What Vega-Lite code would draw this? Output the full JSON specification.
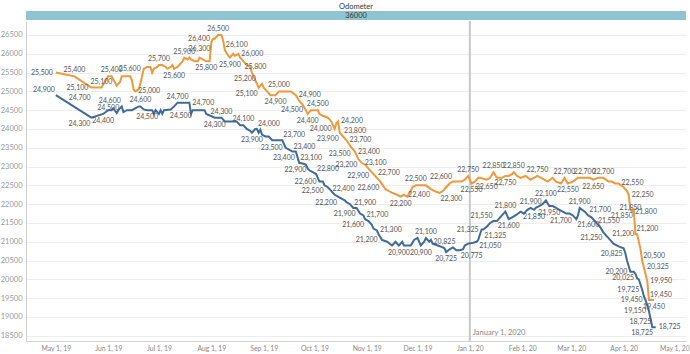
{
 "$schema": "https://vega.github.io/schema/vega-lite/v6.json",
 "padding": {"left": 0, "right": 5, "top": 2, "bottom": 0},
 "background": "white",
 "spacing": 0,
 "config": {"view": {"stroke": null}, "font": "Lato"},
 "datasets": {
  "prices": [
   {"series":"Series 1","d":"2019-05-01","v":25500},{"series":"Series 1","d":"2019-05-12","v":25400},{"series":"Series 1","d":"2019-05-22","v":25100},{"series":"Series 1","d":"2019-05-28","v":25100},{"series":"Series 1","d":"2019-06-01","v":25400},{"series":"Series 1","d":"2019-06-03","v":25400},{"series":"Series 1","d":"2019-06-06","v":25150},{"series":"Series 1","d":"2019-06-08","v":25250},{"series":"Series 1","d":"2019-06-09","v":25400},{"series":"Series 1","d":"2019-06-14","v":25400},{"series":"Series 1","d":"2019-06-15","v":25300},{"series":"Series 1","d":"2019-06-16","v":25050},{"series":"Series 1","d":"2019-06-17","v":25000},{"series":"Series 1","d":"2019-06-19","v":25050},{"series":"Series 1","d":"2019-06-20","v":25200},{"series":"Series 1","d":"2019-06-22","v":25600},{"series":"Series 1","d":"2019-06-24","v":25650},{"series":"Series 1","d":"2019-06-26","v":25650},{"series":"Series 1","d":"2019-06-27","v":25500},{"series":"Series 1","d":"2019-06-28","v":25600},{"series":"Series 1","d":"2019-06-30","v":25650},{"series":"Series 1","d":"2019-07-01","v":25700},{"series":"Series 1","d":"2019-07-03","v":25700},{"series":"Series 1","d":"2019-07-05","v":25650},{"series":"Series 1","d":"2019-07-06","v":25600},{"series":"Series 1","d":"2019-07-08","v":25650},{"series":"Series 1","d":"2019-07-09","v":25700},{"series":"Series 1","d":"2019-07-10","v":25600},{"series":"Series 1","d":"2019-07-12","v":25650},{"series":"Series 1","d":"2019-07-14","v":25750},{"series":"Series 1","d":"2019-07-15","v":25800},{"series":"Series 1","d":"2019-07-16","v":25900},{"series":"Series 1","d":"2019-07-18","v":25850},{"series":"Series 1","d":"2019-07-19","v":25900},{"series":"Series 1","d":"2019-07-20","v":25850},{"series":"Series 1","d":"2019-07-22","v":25800},{"series":"Series 1","d":"2019-07-24","v":25800},{"series":"Series 1","d":"2019-07-25","v":25900},{"series":"Series 1","d":"2019-07-27","v":25850},{"series":"Series 1","d":"2019-07-29","v":25800},{"series":"Series 1","d":"2019-07-31","v":25800},{"series":"Series 1","d":"2019-08-01","v":26300},{"series":"Series 1","d":"2019-08-02","v":26400},{"series":"Series 1","d":"2019-08-03","v":26400},{"series":"Series 1","d":"2019-08-05","v":26500},{"series":"Series 1","d":"2019-08-07","v":26500},{"series":"Series 1","d":"2019-08-08","v":26350},{"series":"Series 1","d":"2019-08-09","v":26100},{"series":"Series 1","d":"2019-08-11","v":25950},{"series":"Series 1","d":"2019-08-12","v":25900},{"series":"Series 1","d":"2019-08-14","v":26000},{"series":"Series 1","d":"2019-08-15","v":25950},{"series":"Series 1","d":"2019-08-17","v":26000},{"series":"Series 1","d":"2019-08-18","v":25900},{"series":"Series 1","d":"2019-08-20","v":25800},{"series":"Series 1","d":"2019-08-22","v":25700},{"series":"Series 1","d":"2019-08-24","v":25650},{"series":"Series 1","d":"2019-08-25","v":25500},{"series":"Series 1","d":"2019-08-27","v":25300},{"series":"Series 1","d":"2019-08-28","v":25200},{"series":"Series 1","d":"2019-08-29","v":25100},{"series":"Series 1","d":"2019-08-31","v":25200},{"series":"Series 1","d":"2019-09-01","v":25100},{"series":"Series 1","d":"2019-09-03","v":25000},{"series":"Series 1","d":"2019-09-05","v":24900},{"series":"Series 1","d":"2019-09-08","v":24900},{"series":"Series 1","d":"2019-09-10","v":25000},{"series":"Series 1","d":"2019-09-17","v":25000},{"series":"Series 1","d":"2019-09-20","v":24900},{"series":"Series 1","d":"2019-09-22","v":24750},{"series":"Series 1","d":"2019-09-24","v":24650},{"series":"Series 1","d":"2019-09-26","v":24500},{"series":"Series 1","d":"2019-09-27","v":24400},{"series":"Series 1","d":"2019-09-29","v":24500},{"series":"Series 1","d":"2019-10-03","v":24500},{"series":"Series 1","d":"2019-10-04","v":24400},{"series":"Series 1","d":"2019-10-06","v":24350},{"series":"Series 1","d":"2019-10-09","v":24300},{"series":"Series 1","d":"2019-10-11","v":24200},{"series":"Series 1","d":"2019-10-13","v":24000},{"series":"Series 1","d":"2019-10-14","v":24150},{"series":"Series 1","d":"2019-10-15","v":24200},{"series":"Series 1","d":"2019-10-16","v":23900},{"series":"Series 1","d":"2019-10-18","v":23800},{"series":"Series 1","d":"2019-10-20","v":23700},{"series":"Series 1","d":"2019-10-23","v":23500},{"series":"Series 1","d":"2019-10-25","v":23400},{"series":"Series 1","d":"2019-10-27","v":23200},{"series":"Series 1","d":"2019-10-29","v":23100},{"series":"Series 1","d":"2019-10-31","v":23050},{"series":"Series 1","d":"2019-11-03","v":22900},{"series":"Series 1","d":"2019-11-05","v":22800},{"series":"Series 1","d":"2019-11-07","v":22700},{"series":"Series 1","d":"2019-11-09","v":22600},{"series":"Series 1","d":"2019-11-12","v":22400},{"series":"Series 1","d":"2019-11-14","v":22350},{"series":"Series 1","d":"2019-11-16","v":22300},{"series":"Series 1","d":"2019-11-19","v":22250},{"series":"Series 1","d":"2019-11-21","v":22200},{"series":"Series 1","d":"2019-11-23","v":22250},{"series":"Series 1","d":"2019-11-25","v":22200},{"series":"Series 1","d":"2019-11-27","v":22350},{"series":"Series 1","d":"2019-11-28","v":22450},{"series":"Series 1","d":"2019-11-30","v":22500},{"series":"Series 1","d":"2019-12-06","v":22500},{"series":"Series 1","d":"2019-12-09","v":22400},{"series":"Series 1","d":"2019-12-11","v":22350},{"series":"Series 1","d":"2019-12-14","v":22300},{"series":"Series 1","d":"2019-12-16","v":22350},{"series":"Series 1","d":"2019-12-18","v":22450},{"series":"Series 1","d":"2019-12-20","v":22550},{"series":"Series 1","d":"2019-12-22","v":22600},{"series":"Series 1","d":"2019-12-25","v":22600},{"series":"Series 1","d":"2019-12-27","v":22600},{"series":"Series 1","d":"2019-12-29","v":22650},{"series":"Series 1","d":"2019-12-31","v":22750},{"series":"Series 1","d":"2020-01-02","v":22550},{"series":"Series 1","d":"2020-01-04","v":22600},{"series":"Series 1","d":"2020-01-06","v":22700},{"series":"Series 1","d":"2020-01-07","v":22700},{"series":"Series 1","d":"2020-01-11","v":22650},{"series":"Series 1","d":"2020-01-13","v":22700},{"series":"Series 1","d":"2020-01-15","v":22850},{"series":"Series 1","d":"2020-01-17","v":22700},{"series":"Series 1","d":"2020-01-20","v":22700},{"series":"Series 1","d":"2020-01-22","v":22750},{"series":"Series 1","d":"2020-01-24","v":22750},{"series":"Series 1","d":"2020-01-26","v":22800},{"series":"Series 1","d":"2020-01-27","v":22850},{"series":"Series 1","d":"2020-01-29","v":22750},{"series":"Series 1","d":"2020-01-31","v":22700},{"series":"Series 1","d":"2020-02-03","v":22750},{"series":"Series 1","d":"2020-02-06","v":22650},{"series":"Series 1","d":"2020-02-10","v":22750},{"series":"Series 1","d":"2020-02-14","v":22650},{"series":"Series 1","d":"2020-02-16","v":22600},{"series":"Series 1","d":"2020-02-19","v":22700},{"series":"Series 1","d":"2020-02-21","v":22600},{"series":"Series 1","d":"2020-02-24","v":22550},{"series":"Series 1","d":"2020-02-26","v":22700},{"series":"Series 1","d":"2020-02-28","v":22550},{"series":"Series 1","d":"2020-03-02","v":22600},{"series":"Series 1","d":"2020-03-05","v":22700},{"series":"Series 1","d":"2020-03-09","v":22700},{"series":"Series 1","d":"2020-03-12","v":22700},{"series":"Series 1","d":"2020-03-14","v":22650},{"series":"Series 1","d":"2020-03-17","v":22700},{"series":"Series 1","d":"2020-03-20","v":22700},{"series":"Series 1","d":"2020-03-23","v":22600},{"series":"Series 1","d":"2020-03-25","v":22600},{"series":"Series 1","d":"2020-03-27","v":22550},{"series":"Series 1","d":"2020-03-29","v":22550},{"series":"Series 1","d":"2020-04-01","v":22450},{"series":"Series 1","d":"2020-04-03","v":22350},{"series":"Series 1","d":"2020-04-04","v":22250},{"series":"Series 1","d":"2020-04-05","v":21850},{"series":"Series 1","d":"2020-04-06","v":21800},{"series":"Series 1","d":"2020-04-07","v":21850},{"series":"Series 1","d":"2020-04-08","v":21200},{"series":"Series 1","d":"2020-04-09","v":21200},{"series":"Series 1","d":"2020-04-11","v":20800},{"series":"Series 1","d":"2020-04-12","v":20500},{"series":"Series 1","d":"2020-04-13","v":20325},{"series":"Series 1","d":"2020-04-15","v":19950},{"series":"Series 1","d":"2020-04-16","v":19450},{"series":"Series 1","d":"2020-04-19","v":19450},
   {"series":"Series 2","d":"2019-05-01","v":24900},{"series":"Series 2","d":"2019-05-08","v":24700},{"series":"Series 2","d":"2019-05-22","v":24300},{"series":"Series 2","d":"2019-05-29","v":24400},{"series":"Series 2","d":"2019-06-01","v":24500},{"series":"Series 2","d":"2019-06-03","v":24500},{"series":"Series 2","d":"2019-06-04","v":24550},{"series":"Series 2","d":"2019-06-06","v":24420},{"series":"Series 2","d":"2019-06-07","v":24500},{"series":"Series 2","d":"2019-06-09","v":24600},{"series":"Series 2","d":"2019-06-10","v":24450},{"series":"Series 2","d":"2019-06-12","v":24500},{"series":"Series 2","d":"2019-06-15","v":24500},{"series":"Series 2","d":"2019-06-17","v":24550},{"series":"Series 2","d":"2019-06-19","v":24600},{"series":"Series 2","d":"2019-06-20","v":24600},{"series":"Series 2","d":"2019-06-22","v":24520},{"series":"Series 2","d":"2019-06-24","v":24500},{"series":"Series 2","d":"2019-06-27","v":24500},{"series":"Series 2","d":"2019-06-28","v":24400},{"series":"Series 2","d":"2019-06-29","v":24500},{"series":"Series 2","d":"2019-07-01","v":24400},{"series":"Series 2","d":"2019-07-02","v":24500},{"series":"Series 2","d":"2019-07-03","v":24400},{"series":"Series 2","d":"2019-07-04","v":24500},{"series":"Series 2","d":"2019-07-08","v":24520},{"series":"Series 2","d":"2019-07-10","v":24600},{"series":"Series 2","d":"2019-07-12","v":24700},{"series":"Series 2","d":"2019-07-19","v":24700},{"series":"Series 2","d":"2019-07-20","v":24400},{"series":"Series 2","d":"2019-07-21","v":24500},{"series":"Series 2","d":"2019-07-23","v":24500},{"series":"Series 2","d":"2019-07-28","v":24500},{"series":"Series 2","d":"2019-07-29","v":24400},{"series":"Series 2","d":"2019-08-03","v":24300},{"series":"Series 2","d":"2019-08-07","v":24300},{"series":"Series 2","d":"2019-08-09","v":24200},{"series":"Series 2","d":"2019-08-16","v":24200},{"series":"Series 2","d":"2019-08-18","v":24100},{"series":"Series 2","d":"2019-08-20","v":24100},{"series":"Series 2","d":"2019-08-22","v":24000},{"series":"Series 2","d":"2019-08-24","v":23950},{"series":"Series 2","d":"2019-08-25","v":23900},{"series":"Series 2","d":"2019-08-27","v":24000},{"series":"Series 2","d":"2019-08-28","v":24000},{"series":"Series 2","d":"2019-08-29","v":23900},{"series":"Series 2","d":"2019-08-30","v":23980},{"series":"Series 2","d":"2019-08-31","v":23850},{"series":"Series 2","d":"2019-09-02","v":23800},{"series":"Series 2","d":"2019-09-04","v":23800},{"series":"Series 2","d":"2019-09-06","v":23700},{"series":"Series 2","d":"2019-09-12","v":23700},{"series":"Series 2","d":"2019-09-13","v":23600},{"series":"Series 2","d":"2019-09-14","v":23500},{"series":"Series 2","d":"2019-09-16","v":23450},{"series":"Series 2","d":"2019-09-18","v":23400},{"series":"Series 2","d":"2019-09-20","v":23400},{"series":"Series 2","d":"2019-09-22","v":23100},{"series":"Series 2","d":"2019-09-24","v":23080},{"series":"Series 2","d":"2019-09-26","v":23050},{"series":"Series 2","d":"2019-09-27","v":22950},{"series":"Series 2","d":"2019-09-28","v":22900},{"series":"Series 2","d":"2019-09-30","v":22850},{"series":"Series 2","d":"2019-10-02","v":22800},{"series":"Series 2","d":"2019-10-03","v":22700},{"series":"Series 2","d":"2019-10-04","v":22600},{"series":"Series 2","d":"2019-10-06","v":22600},{"series":"Series 2","d":"2019-10-07","v":22500},{"series":"Series 2","d":"2019-10-09","v":22450},{"series":"Series 2","d":"2019-10-10","v":22400},{"series":"Series 2","d":"2019-10-12","v":22300},{"series":"Series 2","d":"2019-10-13","v":22250},{"series":"Series 2","d":"2019-10-15","v":22200},{"series":"Series 2","d":"2019-10-17","v":22150},{"series":"Series 2","d":"2019-10-19","v":22100},{"series":"Series 2","d":"2019-10-20","v":22050},{"series":"Series 2","d":"2019-10-22","v":22000},{"series":"Series 2","d":"2019-10-24","v":21900},{"series":"Series 2","d":"2019-10-26","v":21900},{"series":"Series 2","d":"2019-10-28","v":21750},{"series":"Series 2","d":"2019-10-30","v":21700},{"series":"Series 2","d":"2019-10-31","v":21600},{"series":"Series 2","d":"2019-11-02","v":21550},{"series":"Series 2","d":"2019-11-04","v":21450},{"series":"Series 2","d":"2019-11-05","v":21350},{"series":"Series 2","d":"2019-11-07","v":21300},{"series":"Series 2","d":"2019-11-08","v":21200},{"series":"Series 2","d":"2019-11-10","v":21050},{"series":"Series 2","d":"2019-11-13","v":21000},{"series":"Series 2","d":"2019-11-16","v":20900},{"series":"Series 2","d":"2019-11-18","v":21000},{"series":"Series 2","d":"2019-11-20","v":20900},{"series":"Series 2","d":"2019-11-22","v":21000},{"series":"Series 2","d":"2019-11-23","v":20900},{"series":"Series 2","d":"2019-11-27","v":20900},{"series":"Series 2","d":"2019-11-29","v":21050},{"series":"Series 2","d":"2019-12-01","v":21100},{"series":"Series 2","d":"2019-12-03","v":20900},{"series":"Series 2","d":"2019-12-05","v":21000},{"series":"Series 2","d":"2019-12-06","v":21100},{"series":"Series 2","d":"2019-12-08","v":21000},{"series":"Series 2","d":"2019-12-09","v":21050},{"series":"Series 2","d":"2019-12-10","v":20950},{"series":"Series 2","d":"2019-12-13","v":20900},{"series":"Series 2","d":"2019-12-16","v":20850},{"series":"Series 2","d":"2019-12-17","v":20825},{"series":"Series 2","d":"2019-12-18","v":20725},{"series":"Series 2","d":"2019-12-20","v":20800},{"series":"Series 2","d":"2019-12-22","v":20850},{"series":"Series 2","d":"2019-12-24","v":20775},{"series":"Series 2","d":"2019-12-26","v":20775},{"series":"Series 2","d":"2019-12-28","v":20800},{"series":"Series 2","d":"2019-12-29","v":20900},{"series":"Series 2","d":"2019-12-31","v":20950},{"series":"Series 2","d":"2020-01-03","v":20975},{"series":"Series 2","d":"2020-01-05","v":21000},{"series":"Series 2","d":"2020-01-06","v":21050},{"series":"Series 2","d":"2020-01-07","v":21200},{"series":"Series 2","d":"2020-01-08","v":21325},{"series":"Series 2","d":"2020-01-09","v":21325},{"series":"Series 2","d":"2020-01-11","v":21400},{"series":"Series 2","d":"2020-01-13","v":21500},{"series":"Series 2","d":"2020-01-15","v":21550},{"series":"Series 2","d":"2020-01-17","v":21550},{"series":"Series 2","d":"2020-01-18","v":21600},{"series":"Series 2","d":"2020-01-20","v":21700},{"series":"Series 2","d":"2020-01-22","v":21800},{"series":"Series 2","d":"2020-01-23","v":21700},{"series":"Series 2","d":"2020-01-24","v":21600},{"series":"Series 2","d":"2020-01-26","v":21650},{"series":"Series 2","d":"2020-01-28","v":21700},{"series":"Series 2","d":"2020-01-31","v":21800},{"series":"Series 2","d":"2020-02-02","v":21750},{"series":"Series 2","d":"2020-02-04","v":21850},{"series":"Series 2","d":"2020-02-06","v":21900},{"series":"Series 2","d":"2020-02-08","v":21850},{"series":"Series 2","d":"2020-02-09","v":21900},{"series":"Series 2","d":"2020-02-11","v":21950},{"series":"Series 2","d":"2020-02-13","v":22000},{"series":"Series 2","d":"2020-02-15","v":22100},{"series":"Series 2","d":"2020-02-17","v":21950},{"series":"Series 2","d":"2020-02-19","v":21950},{"series":"Series 2","d":"2020-02-21","v":21900},{"series":"Series 2","d":"2020-02-23","v":21850},{"series":"Series 2","d":"2020-02-25","v":21800},{"series":"Series 2","d":"2020-02-27","v":21750},{"series":"Series 2","d":"2020-02-29","v":21750},{"series":"Series 2","d":"2020-03-02","v":21700},{"series":"Series 2","d":"2020-03-04","v":21600},{"series":"Series 2","d":"2020-03-05","v":21700},{"series":"Series 2","d":"2020-03-06","v":21900},{"series":"Series 2","d":"2020-03-09","v":21800},{"series":"Series 2","d":"2020-03-11","v":21700},{"series":"Series 2","d":"2020-03-13","v":21650},{"series":"Series 2","d":"2020-03-15","v":21550},{"series":"Series 2","d":"2020-03-16","v":21500},{"series":"Series 2","d":"2020-03-18","v":21400},{"series":"Series 2","d":"2020-03-20","v":21250},{"series":"Series 2","d":"2020-03-22","v":21150},{"series":"Series 2","d":"2020-03-24","v":21050},{"series":"Series 2","d":"2020-03-26","v":20950},{"series":"Series 2","d":"2020-03-29","v":20875},{"series":"Series 2","d":"2020-04-01","v":20825},{"series":"Series 2","d":"2020-04-02","v":20700},{"series":"Series 2","d":"2020-04-03","v":20500},{"series":"Series 2","d":"2020-04-05","v":20200},{"series":"Series 2","d":"2020-04-07","v":20200},{"series":"Series 2","d":"2020-04-08","v":20150},{"series":"Series 2","d":"2020-04-09","v":20025},{"series":"Series 2","d":"2020-04-10","v":20000},{"series":"Series 2","d":"2020-04-12","v":19725},{"series":"Series 2","d":"2020-04-13","v":19550},{"series":"Series 2","d":"2020-04-14","v":19450},{"series":"Series 2","d":"2020-04-15","v":19300},{"series":"Series 2","d":"2020-04-16","v":19150},{"series":"Series 2","d":"2020-04-18","v":18725},{"series":"Series 2","d":"2020-04-19","v":18725},{"series":"Series 2","d":"2020-04-20","v":18725}
  ],
  "lab_above": [
   {"d":"2019-05-12","v":25400},{"d":"2019-05-28","v":25100},{"d":"2019-06-03","v":25400},{"d":"2019-07-01","v":25700},{"d":"2019-07-16","v":25900},{"d":"2019-08-05","v":26500},{"d":"2019-09-10","v":25000},{"d":"2019-10-03","v":24500},{"d":"2019-11-30","v":22500},{"d":"2019-12-31","v":22750},{"d":"2020-01-15","v":22850},{"d":"2020-01-27","v":22850},{"d":"2020-02-10","v":22750},{"d":"2020-02-26","v":22700},{"d":"2020-03-09","v":22700},{"d":"2020-03-20","v":22700},
   {"d":"2019-06-20","v":24600},{"d":"2019-07-12","v":24700},{"d":"2019-08-07","v":24300},{"d":"2019-08-20","v":24100},{"d":"2019-12-06","v":21100},{"d":"2019-12-17","v":20825},{"d":"2020-01-22","v":21800},{"d":"2020-02-06","v":21900},{"d":"2020-02-15","v":22100},{"d":"2020-03-06","v":21900}
  ],
  "lab_mid": [
   {"d":"2020-04-05","v":21850},
   {"d":"2019-06-01","v":24500}
  ],
  "lab_below": [
   {"d":"2019-07-10","v":25600},{"d":"2019-07-29","v":25800},{"d":"2019-08-12","v":25900},{"d":"2019-09-08","v":24900},{"d":"2019-09-27","v":24400},{"d":"2019-11-21","v":22200},{"d":"2020-01-02","v":22550},{"d":"2020-01-11","v":22650},{"d":"2020-01-22","v":22750},{"d":"2020-02-28","v":22550},{"d":"2020-03-14","v":22650},{"d":"2020-04-19","v":19450},
   {"d":"2019-05-29","v":24400},{"d":"2019-06-24","v":24500},{"d":"2019-08-03","v":24300},{"d":"2019-08-25","v":23900},{"d":"2019-11-20","v":20900},{"d":"2019-12-03","v":20900},{"d":"2019-12-18","v":20725},{"d":"2020-01-24","v":21600},{"d":"2020-02-08","v":21850},{"d":"2020-02-17","v":21950}
  ],
  "lab_left": [
   {"d":"2019-05-01","v":25500},{"d":"2019-05-22","v":25100},{"d":"2019-06-22","v":25600},{"d":"2019-08-02","v":26400},{"d":"2019-09-26","v":24500},{"d":"2019-10-13","v":24000},{"d":"2020-04-09","v":21200},
   {"d":"2019-09-14","v":23500},{"d":"2019-09-28","v":22900},{"d":"2019-10-04","v":22600},{"d":"2020-01-08","v":21325},{"d":"2020-04-05","v":20200},{"d":"2020-04-09","v":20025},{"d":"2020-04-12","v":19725},{"d":"2020-04-14","v":19450},{"d":"2020-04-16","v":19150}
  ],
  "lab_right": [
   {"d":"2019-06-17","v":25000},{"d":"2019-08-17","v":26000},{"d":"2019-09-20","v":24900},{"d":"2019-10-15","v":24200},{"d":"2019-10-20","v":23700},{"d":"2019-10-25","v":23400},{"d":"2019-10-29","v":23100},{"d":"2020-03-29","v":22550},{"d":"2020-04-04","v":22250},{"d":"2020-04-06","v":21800},{"d":"2020-04-13","v":20325},{"d":"2020-04-15","v":19950},
   {"d":"2019-07-19","v":24700},{"d":"2019-10-10","v":22400},{"d":"2019-10-30","v":21700},{"d":"2019-11-07","v":21300},{"d":"2020-03-15","v":21550},{"d":"2020-04-20","v":18725}
  ],
  "lab_ul": [
   {"d":"2019-12-22","v":22600},{"d":"2019-08-28","v":25200},
   {"d":"2019-05-01","v":24900},{"d":"2019-06-09","v":24600},{"d":"2020-01-15","v":21550},{"d":"2020-04-18","v":18725}
  ],
  "lab_ur": [
   {"d":"2019-08-09","v":26100},{"d":"2019-10-18","v":23800},{"d":"2019-11-07","v":22700},{"d":"2020-04-08","v":21200},{"d":"2020-04-12","v":20500},{"d":"2020-04-16","v":19450},
   {"d":"2019-05-08","v":24700},{"d":"2019-08-28","v":24000},{"d":"2019-09-12","v":23700},{"d":"2019-09-18","v":23400},{"d":"2019-09-22","v":23100},{"d":"2019-10-02","v":22800},{"d":"2019-10-24","v":21900},{"d":"2020-03-11","v":21700}
  ],
  "lab_ll": [
   {"d":"2019-08-01","v":26300},{"d":"2019-08-29","v":25100},{"d":"2019-10-16","v":23900},{"d":"2019-10-23","v":23500},{"d":"2019-10-27","v":23200},{"d":"2019-11-03","v":22900},{"d":"2019-11-09","v":22600},{"d":"2019-12-09","v":22400},{"d":"2020-04-07","v":21850},
   {"d":"2019-05-22","v":24300},{"d":"2019-07-21","v":24500},{"d":"2019-09-20","v":23400},{"d":"2019-10-07","v":22500},{"d":"2019-10-15","v":22200},{"d":"2019-10-26","v":21900},{"d":"2019-10-31","v":21600},{"d":"2019-11-08","v":21200},{"d":"2020-03-02","v":21700},{"d":"2020-03-20","v":21250},{"d":"2020-04-01","v":20825},{"d":"2020-04-19","v":18725}
  ],
  "lab_lr": [
   {"d":"2019-08-20","v":25800},{"d":"2019-12-14","v":22300},
   {"d":"2019-12-26","v":20775},{"d":"2020-01-06","v":21050},{"d":"2020-01-09","v":21325},{"d":"2020-03-04","v":21600}
  ]
 },
 "vconcat": [
  {
   "width": 660,
   "height": 9,
   "title": {"text": "Odometer", "fontSize": 7.5, "fontWeight": "normal", "color": "#333333", "offset": 1, "font": "Lato"},
   "data": {"values": [{"odometer": "36000"}]},
   "layer": [
    {"mark": {"type": "rect", "color": "#8fc4d2"},
     "encoding": {"x": {"field": "odometer", "type": "nominal", "axis": null, "scale": {"paddingInner": 0, "paddingOuter": 0}}}},
    {"mark": {"type": "text", "fontSize": 7.5, "color": "#333333", "font": "Lato"},
     "encoding": {"x": {"field": "odometer", "type": "nominal", "axis": null}, "text": {"field": "odometer"}}}
   ]
  },
  {
   "width": 660,
   "height": 320,
   "layer": [
    {"data": {"values": [{"d": "2020-01-01"}]},
     "mark": {"type": "rule", "color": "#c8c8c8", "strokeWidth": 2},
     "encoding": {"x": {"field": "d", "type": "temporal", "scale": {"type": "utc", "domain": [{"year": 2019, "month": 4, "date": 13, "hours": 8, "utc": true}, {"year": 2020, "month": 5, "date": 7, "hours": 22, "utc": true}]},
       "axis": {"title": null, "format": "%b %-d, %y", "tickCount": {"interval": "month", "step": 1}, "grid": false, "ticks": false, "labelFlush": false, "labelOverlap": false, "labelFontSize": 6.8, "labelColor": "#888888", "domainColor": "#d0d0d0", "labelPadding": 4, "minExtent": 14, "maxExtent": 14}}}},
    {"data": {"name": "prices"},
     "mark": {"type": "line", "strokeWidth": 2},
     "encoding": {
      "x": {"field": "d", "type": "temporal", "scale": {"type": "utc", "domain": [{"year": 2019, "month": 4, "date": 13, "hours": 8, "utc": true}, {"year": 2020, "month": 5, "date": 7, "hours": 22, "utc": true}]}},
      "y": {"field": "v", "type": "quantitative", "scale": {"domain": [18360, 26872], "nice": false, "zero": false},
        "axis": {"title": null, "values": [18500,19000,19500,20000,20500,21000,21500,22000,22500,23000,23500,24000,24500,25000,25500,26000,26500], "tickCount": 20, "format": "d", "ticks": false, "grid": true, "gridColor": "#eeeeee", "labelOverlap": false, "labelFontSize": 7.5, "labelColor": "#999999", "domainColor": "#d0d0d0", "labelPadding": 4, "minExtent": 25, "maxExtent": 25}},
      "color": {"field": "series", "type": "nominal", "scale": {"domain": ["Series 1", "Series 2"], "range": ["#f0983a", "#3f6b99"]}, "legend": null}
     }},
    {"data": {"name": "lab_above"}, "mark": {"type": "text", "align": "center", "baseline": "bottom", "dy": -3, "fontSize": 7, "color": "#555555", "font": "Lato"},
     "encoding": {"x": {"field": "d", "type": "temporal"}, "y": {"field": "v", "type": "quantitative"}, "text": {"field": "v", "type": "quantitative", "format": ",d"}}},
    {"data": {"name": "lab_mid"}, "mark": {"type": "text", "align": "center", "baseline": "middle", "dy": -2, "fontSize": 7, "color": "#555555", "font": "Lato"},
     "encoding": {"x": {"field": "d", "type": "temporal"}, "y": {"field": "v", "type": "quantitative"}, "text": {"field": "v", "type": "quantitative", "format": ",d"}}},
    {"data": {"name": "lab_below"}, "mark": {"type": "text", "align": "center", "baseline": "top", "dy": 3, "fontSize": 7, "color": "#555555", "font": "Lato"},
     "encoding": {"x": {"field": "d", "type": "temporal"}, "y": {"field": "v", "type": "quantitative"}, "text": {"field": "v", "type": "quantitative", "format": ",d"}}},
    {"data": {"name": "lab_left"}, "mark": {"type": "text", "align": "right", "baseline": "middle", "dx": -3, "fontSize": 7, "color": "#555555", "font": "Lato"},
     "encoding": {"x": {"field": "d", "type": "temporal"}, "y": {"field": "v", "type": "quantitative"}, "text": {"field": "v", "type": "quantitative", "format": ",d"}}},
    {"data": {"name": "lab_right"}, "mark": {"type": "text", "align": "left", "baseline": "middle", "dx": 3, "fontSize": 7, "color": "#555555", "font": "Lato"},
     "encoding": {"x": {"field": "d", "type": "temporal"}, "y": {"field": "v", "type": "quantitative"}, "text": {"field": "v", "type": "quantitative", "format": ",d"}}},
    {"data": {"name": "lab_ul"}, "mark": {"type": "text", "align": "right", "baseline": "bottom", "dx": -1, "dy": -2, "fontSize": 7, "color": "#555555", "font": "Lato"},
     "encoding": {"x": {"field": "d", "type": "temporal"}, "y": {"field": "v", "type": "quantitative"}, "text": {"field": "v", "type": "quantitative", "format": ",d"}}},
    {"data": {"name": "lab_ur"}, "mark": {"type": "text", "align": "left", "baseline": "bottom", "dx": 1, "dy": -2, "fontSize": 7, "color": "#555555", "font": "Lato"},
     "encoding": {"x": {"field": "d", "type": "temporal"}, "y": {"field": "v", "type": "quantitative"}, "text": {"field": "v", "type": "quantitative", "format": ",d"}}},
    {"data": {"name": "lab_ll"}, "mark": {"type": "text", "align": "right", "baseline": "top", "dx": -1, "dy": 2, "fontSize": 7, "color": "#555555", "font": "Lato"},
     "encoding": {"x": {"field": "d", "type": "temporal"}, "y": {"field": "v", "type": "quantitative"}, "text": {"field": "v", "type": "quantitative", "format": ",d"}}},
    {"data": {"name": "lab_lr"}, "mark": {"type": "text", "align": "left", "baseline": "top", "dx": 1, "dy": 2, "fontSize": 7, "color": "#555555", "font": "Lato"},
     "encoding": {"x": {"field": "d", "type": "temporal"}, "y": {"field": "v", "type": "quantitative"}, "text": {"field": "v", "type": "quantitative", "format": ",d"}}},
    {"data": {"values": [{"d": "2020-01-01", "note": "January 1, 2020"}]},
     "mark": {"type": "text", "align": "left", "baseline": "bottom", "dx": 3, "dy": -4, "fontSize": 7.5, "color": "#888888", "font": "Lato"},
     "encoding": {"x": {"field": "d", "type": "temporal"}, "y": {"value": "height"}, "text": {"field": "note"}}}
   ]
  }
 ]
}
